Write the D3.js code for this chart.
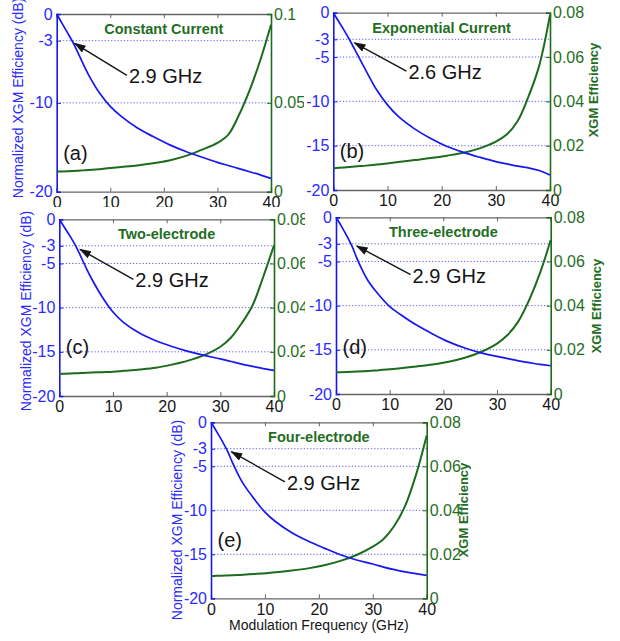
<!DOCTYPE html>
<html>
<head>
<meta charset="utf-8">
<script src="https://cdn.jsdelivr.net/npm/d3@7"></script>
<style>
  html, body { margin: 0; padding: 0; background: #fff; }
  svg { display: block; font-family: "Liberation Sans", Arial, sans-serif; }
</style>
</head>
<body>
<svg id="chart" width="620" height="641"></svg>
<script>
// ---- data ---------------------------------------------------------------
const freqGHz = [0, 1, 2, 3, 4, 5, 6, 8, 10, 12, 15, 18, 21, 24, 27, 30, 32, 34, 36, 38, 40];

const xTicks = [0, 10, 20, 30, 40];
const dbTicksA = [0, -3, -10, -20];
const dbTicks = [0, -3, -5, -10, -15, -20];
const effTicksA = [0, 0.05, 0.1];
const effTicks = [0, 0.02, 0.04, 0.06, 0.08];

const panelTitles = ["Constant Current", "Exponential Current", "Two-electrode", "Three-electrode", "Four-electrode"];
const panelTags = ["(a)", "(b)", "(c)", "(d)", "(e)"];
const bandwidthLabels = ["2.9 GHz", "2.6 GHz", "2.9 GHz", "2.9 GHz", "2.9 GHz"];

// normalized XGM efficiency (dB)
const normDbA = [0, -1.05, -2.1, -3.15, -4.4, -5.7, -6.9, -8.9, -10.4, -11.5, -12.8, -13.8, -14.7, -15.45, -16.1, -16.7, -17.05, -17.4, -17.75, -18.1, -18.5];
const normDbB = [0, -1.0, -2.0, -3.05, -4.2, -5.35, -6.5, -8.7, -10.4, -11.7, -13.1, -14.2, -15.1, -15.75, -16.3, -16.8, -17.05, -17.3, -17.5, -17.8, -18.3];
const normDbC = [0, -0.95, -1.9, -2.95, -4.2, -5.5, -6.7, -8.8, -10.5, -11.7, -12.9, -13.75, -14.4, -14.95, -15.4, -15.8, -16.1, -16.4, -16.65, -16.9, -17.1];
const normDbD = [0, -1.0, -2.1, -3.3, -4.8, -6.1, -7.2, -8.8, -10.1, -11.0, -12.2, -13.2, -14.1, -14.8, -15.35, -15.75, -16.0, -16.25, -16.45, -16.65, -16.8];
const normDbE = [0, -1.0, -2.05, -3.2, -4.6, -5.9, -7.0, -8.7, -10.2, -11.3, -12.55, -13.5, -14.3, -15.05, -15.65, -16.1, -16.45, -16.75, -17.0, -17.2, -17.4];

// XGM efficiency (linear)
const xgmEffA = [0.0113, 0.0114, 0.0115, 0.0116, 0.0118, 0.0120, 0.0122, 0.0127, 0.0133, 0.0139, 0.0148, 0.0160, 0.0176, 0.0200, 0.0235, 0.0275, 0.0320, 0.0430, 0.0570, 0.0740, 0.0940];
const xgmEffB = [0.0098, 0.0100, 0.0102, 0.0104, 0.0106, 0.0108, 0.0110, 0.0115, 0.0120, 0.0126, 0.0135, 0.0144, 0.0155, 0.0168, 0.0188, 0.0218, 0.0250, 0.0310, 0.0420, 0.0560, 0.0790];
const xgmEffC = [0.0100, 0.0101, 0.0102, 0.0103, 0.0104, 0.0105, 0.0106, 0.0108, 0.0110, 0.0114, 0.0120, 0.0128, 0.0142, 0.0160, 0.0185, 0.0223, 0.0265, 0.0330, 0.0410, 0.0540, 0.0682];
const xgmEffD = [0.0098, 0.0099, 0.0100, 0.0101, 0.0102, 0.0103, 0.0104, 0.0108, 0.0112, 0.0117, 0.0125, 0.0134, 0.0146, 0.0164, 0.0190, 0.0228, 0.0268, 0.0330, 0.0426, 0.0547, 0.0697];
const xgmEffE = [0.0101, 0.0102, 0.0103, 0.0104, 0.0105, 0.0106, 0.0107, 0.0110, 0.0114, 0.0118, 0.0126, 0.0136, 0.0150, 0.0170, 0.0197, 0.0235, 0.0270, 0.0330, 0.0420, 0.0560, 0.0740];

// ---- layout -------------------------------------------------------------
const BLUE = "#1717f2", BLUE_TXT = "#2a2aff", GREEN = "#1d6b1d", GREEN_TXT = "#1f6e1f";
const FRAME = "#666", GRID = "#5a5aff", INK = "#151515";

const panels = [
  { plot: [56.7, 271, 14, 191.7], sheet: [0, 0, 304, 207], effMax: 0.1, dbT: dbTicksA, effT: effTicksA,
    tip: [3.35, -3.3], tail: [13.1, -6.9], tagDb: -16.4, leftTitle: [23, 98], db: normDbA, eff: xgmEffA },
  { plot: [333.3, 550, 12.7, 190], sheet: [304, 0, 316, 208], effMax: 0.08, dbT: dbTicks, effT: effTicks,
    tip: [3.9, -3.4], tail: [13.5, -6.6], tagDb: -16.4, rightTitle: [598, 90], db: normDbB, eff: xgmEffB },
  { plot: [59.3, 274, 219.3, 396], sheet: [0, 207, 305, 434], effMax: 0.08, dbT: dbTicks, effT: effTicks,
    tip: [3.85, -3.4], tail: [13.8, -6.8], tagDb: -15.2, leftTitle: [31, 311], db: normDbC, eff: xgmEffC },
  { plot: [336, 550.7, 217.3, 394], sheet: [305, 208, 315, 433], effMax: 0.08, dbT: dbTicks, effT: effTicks,
    tip: [3.85, -3.24], tail: [13.9, -6.5], tagDb: -15.45, rightTitle: [601, 306], db: normDbD, eff: xgmEffD },
  { plot: [211, 426.7, 422.3, 598.3], sheet: [155, 413, 316, 228], effMax: 0.08, dbT: dbTicks, effT: effTicks,
    tip: [3.77, -3.34], tail: [13.7, -6.76], tagDb: -14.2, leftTitle: [182, 520], rightTitle: [468, 510],
    xTitle: true, db: normDbE, eff: xgmEffE }
];

const svg = d3.select("#chart");
const defs = svg.append("defs");
defs.append("marker")
  .attr("id", "arrowhead")
  .attr("viewBox", "0 0 12 8")
  .attr("refX", 11).attr("refY", 4)
  .attr("markerWidth", 12).attr("markerHeight", 8)
  .attr("markerUnits", "userSpaceOnUse")
  .attr("orient", "auto")
  .append("path").attr("d", "M0,0 L12,4 L0,8 Z").attr("fill", INK);

panels.forEach((p, i) => {
  const [L, R, T, B] = p.plot;
  const [sx, sy, sw, sh] = p.sheet;

  defs.append("clipPath").attr("id", "sheet" + i)
    .append("rect").attr("x", sx).attr("y", sy).attr("width", sw).attr("height", sh);

  const g = svg.append("g").attr("clip-path", `url(#sheet${i})`);
  g.append("rect").attr("x", sx).attr("y", sy).attr("width", sw).attr("height", sh).attr("fill", "#fff");

  const x = d3.scaleLinear().domain([0, 40]).range([L, R]);
  const yL = d3.scaleLinear().domain([-20, 0]).range([B, T]);
  const yR = d3.scaleLinear().domain([0, p.effMax]).range([B, T]);

  // dotted reference lines
  g.append("g").selectAll("line")
    .data(p.dbT.filter(d => d !== 0 && d !== -20))
    .join("line")
    .attr("x1", L).attr("x2", R)
    .attr("y1", d => yL(d)).attr("y2", d => yL(d))
    .attr("stroke", GRID).attr("stroke-width", 1).attr("stroke-dasharray", "1.2,2");

  // bottom & top frame with inward ticks
  const xb = g.append("g").attr("transform", `translate(0,${B})`)
    .call(d3.axisBottom(x).tickValues(xTicks).tickSize(-4).tickPadding(5).tickFormat(d => String(d)));
  xb.select(".domain").attr("stroke", FRAME).attr("stroke-width", 1.3);
  xb.selectAll(".tick line").attr("stroke", FRAME);
  xb.selectAll(".tick text").attr("fill", INK).attr("font-size", 16).attr("font-family", null);

  const xt = g.append("g").attr("transform", `translate(0,${T})`)
    .call(d3.axisTop(x).tickValues(xTicks).tickSize(-4).tickFormat(""));
  xt.select(".domain").attr("stroke", FRAME).attr("stroke-width", 1.3);
  xt.selectAll(".tick line").attr("stroke", FRAME);

  // left (dB) axis
  const yl = g.append("g").attr("transform", `translate(${L},0)`)
    .call(d3.axisLeft(yL).tickValues(p.dbT).tickSize(-4).tickPadding(4).tickFormat(d => String(d)));
  yl.select(".domain").attr("stroke", BLUE).attr("stroke-width", 1.6);
  yl.selectAll(".tick line").attr("stroke", BLUE);
  yl.selectAll(".tick text").attr("fill", BLUE_TXT).attr("font-size", 16).attr("font-family", null);

  // right (efficiency) axis
  const yr = g.append("g").attr("transform", `translate(${R},0)`)
    .call(d3.axisRight(yR).tickValues(p.effT).tickSize(-4).tickPadding(3).tickFormat(d => String(d)));
  yr.select(".domain").attr("stroke", GREEN).attr("stroke-width", 1.6);
  yr.selectAll(".tick line").attr("stroke", GREEN);
  yr.selectAll(".tick text").attr("fill", GREEN_TXT).attr("font-size", 16).attr("font-family", null);

  // curves
  const rows = freqGHz.map((f, k) => ({ f, db: p.db[k], eff: p.eff[k] }));
  g.append("path").datum(rows)
    .attr("fill", "none").attr("stroke", GREEN).attr("stroke-width", 2)
    .attr("d", d3.line().x(d => x(d.f)).y(d => yR(d.eff)).curve(d3.curveCatmullRom.alpha(0.5)));
  g.append("path").datum(rows)
    .attr("fill", "none").attr("stroke", BLUE).attr("stroke-width", 1.7)
    .attr("d", d3.line().x(d => x(d.f)).y(d => yL(d.db)).curve(d3.curveCatmullRom.alpha(0.5)));

  // panel heading
  g.append("text")
    .attr("x", (L + R) / 2).attr("y", T + 20)
    .attr("text-anchor", "middle")
    .attr("font-size", 14.5).attr("font-weight", "bold").attr("fill", GREEN_TXT)
    .text(panelTitles[i]);

  // 3-dB bandwidth annotation
  g.append("line")
    .attr("x1", x(p.tail[0])).attr("y1", yL(p.tail[1]))
    .attr("x2", x(p.tip[0])).attr("y2", yL(p.tip[1]))
    .attr("stroke", INK).attr("stroke-width", 1.4)
    .attr("marker-end", "url(#arrowhead)");
  g.append("text")
    .attr("x", x(p.tail[0]) + 2).attr("y", yL(p.tail[1]) + 8)
    .attr("font-size", 20).attr("fill", INK)
    .text(bandwidthLabels[i]);

  // panel tag
  g.append("text")
    .attr("x", L + 6.5).attr("y", yL(p.tagDb))
    .attr("font-size", 20).attr("fill", INK)
    .text(panelTags[i]);

  // axis titles
  if (p.leftTitle) {
    g.append("text")
      .attr("transform", `translate(${p.leftTitle[0]},${p.leftTitle[1]}) rotate(-90)`)
      .attr("text-anchor", "middle").attr("font-size", 14).attr("fill", BLUE_TXT)
      .text("Normalized XGM Efficiency (dB)");
  }
  if (p.rightTitle) {
    g.append("text")
      .attr("transform", `translate(${p.rightTitle[0]},${p.rightTitle[1]}) rotate(-90)`)
      .attr("text-anchor", "middle").attr("font-size", 13).attr("font-weight", "bold").attr("fill", GREEN_TXT)
      .text("XGM Efficiency");
  }
  if (p.xTitle) {
    g.append("text")
      .attr("x", (L + R) / 2).attr("y", 630)
      .attr("text-anchor", "middle").attr("font-size", 14).attr("fill", INK)
      .text("Modulation Frequency (GHz)");
  }
});
</script>
</body>
</html>
